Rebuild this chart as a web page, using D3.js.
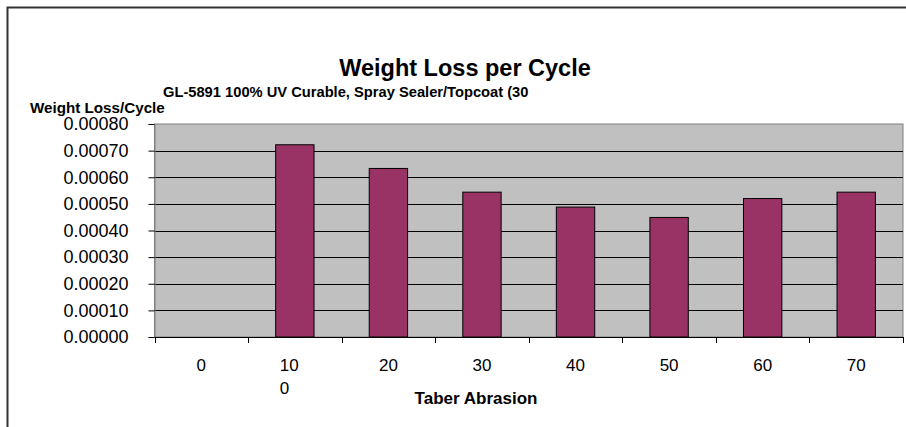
<!DOCTYPE html>
<html>
<head>
<meta charset="utf-8">
<script src="https://cdn.jsdelivr.net/npm/d3@7"></script>
<style>
  body { margin: 0; background: #fff; }
  svg { display: block; font-family: "Liberation Sans", Arial, sans-serif; }
</style>
</head>
<body>
<svg id="vis-svg"></svg>
<script>
// categories as shown under the axis ("\n" = line break in the label)
var categories = ["0", "10\n0", "20", "30", "40", "50", "60", "70"];
var lossPerCycle = [0, 0.000722, 0.000633, 0.000544, 0.000488, 0.000449, 0.000520, 0.000544];
var yTicks = [0, 0.0001, 0.0002, 0.0003, 0.0004, 0.0005, 0.0006, 0.0007, 0.0008];

var titleText = "Weight Loss per Cycle";
var subtitleText = "GL-5891 100% UV Curable, Spray Sealer/Topcoat (30";
var yLabel = "Weight Loss/Cycle";
var xLabel = "Taber Abrasion";

function drawChart() {
  var width = 906;
  var height = 427;
  var plot = { left: 154.5, right: 903, top: 124, bottom: 337 };

  var data = categories.map(function(c, i) {
    return { cat: c, value: lossPerCycle[i] };
  });

  var svg = d3.select('#vis-svg')
    .attr('width', width)
    .attr('height', height);

  // outer chart border (runs off the right and bottom edge)
  svg.append('rect')
    .attr('x', 7.5).attr('y', 7.5)
    .attr('width', 1000).attr('height', 1000)
    .attr('fill', 'none')
    .attr('stroke', '#333')
    .attr('stroke-width', 2);

  var yScale = d3.scaleLinear()
    .domain([0, 0.0008])
    .range([plot.bottom, plot.top]);

  var xScale = d3.scaleBand()
    .domain(categories)
    .range([plot.left, plot.right])
    .paddingInner(0)
    .paddingOuter(0);

  // plot background
  svg.append('rect')
    .attr('x', plot.left).attr('y', plot.top)
    .attr('width', plot.right - plot.left)
    .attr('height', plot.bottom - plot.top)
    .attr('fill', '#c0c0c0')
    .attr('stroke', '#808080')
    .attr('stroke-width', 1);

  // gridlines
  svg.append('g')
    .selectAll('line')
    .data(yTicks.slice(1, -1))
    .enter()
    .append('line')
    .attr('x1', plot.left).attr('x2', plot.right)
    .attr('y1', function(d){ return Math.round(yScale(d)) + 0.5; })
    .attr('y2', function(d){ return Math.round(yScale(d)) + 0.5; })
    .attr('stroke', '#000')
    .attr('stroke-width', 1);

  // bars
  var barW = xScale.bandwidth() * 0.41;
  svg.append('g')
    .selectAll('rect')
    .data(data.filter(function(d){ return d.value > 0; }))
    .enter()
    .append('rect')
    .attr('x', function(d){ return xScale(d.cat) + (xScale.bandwidth() - barW) / 2; })
    .attr('y', function(d){ return yScale(d.value); })
    .attr('width', barW)
    .attr('height', function(d){ return plot.bottom - yScale(d.value); })
    .attr('fill', '#993366')
    .attr('stroke', '#000')
    .attr('stroke-width', 1);

  // y axis
  var yAxis = svg.append('g')
    .attr('transform', 'translate(' + plot.left + ',0)')
    .call(d3.axisLeft(yScale)
      .tickValues(yTicks)
      .tickSize(6)
      .tickPadding(20)
      .tickFormat(d3.format('.5f')));
  yAxis.select('.domain').attr('stroke', '#808080');
  yAxis.selectAll('.tick line').attr('stroke', '#000');
  yAxis.selectAll('text')
    .attr('font-size', 18)
    .attr('font-family', '"Liberation Sans", Arial, sans-serif')
    .attr('fill', '#000');

  // x axis: ticks on the band edges
  var edges = categories.map(function(c){ return xScale(c); }).concat([plot.right]);
  var xAxis = svg.append('g');
  xAxis.append('line')
    .attr('x1', plot.left).attr('x2', plot.right)
    .attr('y1', plot.bottom + 0.5).attr('y2', plot.bottom + 0.5)
    .attr('stroke', '#000');
  xAxis.selectAll('.xtick')
    .data(edges)
    .enter()
    .append('line')
    .attr('x1', function(d){ return Math.round(d) + 0.5; })
    .attr('x2', function(d){ return Math.round(d) + 0.5; })
    .attr('y1', plot.bottom).attr('y2', plot.bottom + 6)
    .attr('stroke', '#000');

  var xLabels = xAxis.selectAll('.xlab')
    .data(categories)
    .enter()
    .append('text')
    .attr('font-size', 17)
    .attr('fill', '#000');
  xLabels.each(function(c) {
    var lines = c.split('\n');
    var t = d3.select(this);
    var cx = xScale(c) + xScale.bandwidth() / 2;
    if (lines.length > 1) {
      // wrapped label: lines start at the same x
      t.attr('text-anchor', 'start');
      lines.forEach(function(line, i) {
        t.append('tspan')
          .attr('x', cx - 15)
          .attr('y', 371 + i * 23)
          .text(line);
      });
    } else {
      t.attr('text-anchor', 'middle')
        .attr('x', cx).attr('y', 371)
        .text(c);
    }
  });

  // titles
  svg.append('text')
    .attr('x', 465).attr('y', 76)
    .attr('text-anchor', 'middle')
    .attr('font-size', 23.5)
    .attr('font-weight', 'bold')
    .text(titleText);

  svg.append('text')
    .attr('x', 163).attr('y', 97)
    .attr('font-size', 14.7)
    .attr('font-weight', 'bold')
    .text(subtitleText);

  svg.append('text')
    .attr('x', 30).attr('y', 113)
    .attr('font-size', 15.2)
    .attr('font-weight', 'bold')
    .text(yLabel);

  svg.append('text')
    .attr('x', 476).attr('y', 404)
    .attr('text-anchor', 'middle')
    .attr('font-size', 17)
    .attr('font-weight', 'bold')
    .text(xLabel);
}

drawChart();
</script>
</body>
</html>
